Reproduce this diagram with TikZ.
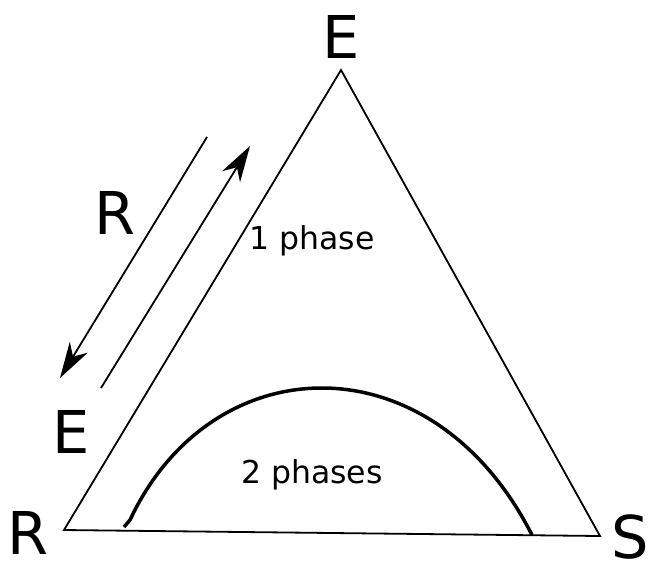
\documentclass[tikz,border=0pt]{standalone}
\usepackage{fontspec}
\setmainfont{DejaVu Sans}
\usetikzlibrary{arrows.meta,positioning}

\begin{document}
\begin{tikzpicture}[x=1pt,y=-1pt,
  big/.style={font=\fontsize{59}{64}\selectfont,inner sep=0pt},
  lab/.style={font=\fontsize{31.5}{34}\selectfont,inner sep=0pt},
  side/.style={line width=1.8pt},
  arr/.style={line width=1.8pt,-{Stealth[length=36pt,width=21pt,inset=11pt]}}]
\useasboundingbox (0,0) rectangle (652,566);
\coordinate (top) at (341,70);\coordinate (left) at (64,530);\coordinate (right) at (600,536);
\draw[side] (top)--(left)--(right)--cycle;
\coordinate (a1) at (207,137);\coordinate (a2) at (60,378);
\coordinate (b1) at (101,388);\coordinate (b2) at (250,146);
\draw[arr] (a1)--(a2);\draw[arr] (b1)--(b2);
\coordinate (c0) at (124,527);\coordinate (c1) at (130,520);\coordinate (c2) at (532,535);
\draw[line width=3.5pt] (c0)--(c1) .. controls (212,345) and (432,338) .. (c2);
\node[big](tE) at (341,37){E};
\node[big](lR) at (115,213){R};
\node[big](lE) at (71,432){E};
\node[big](bR) at (28,533){R};
\node[big](bS) at (630,537){S};
\node[lab](one) at (312,241){1 phase};
\node[lab](two) at (312,475){2 phases};
\end{tikzpicture}
\end{document}
